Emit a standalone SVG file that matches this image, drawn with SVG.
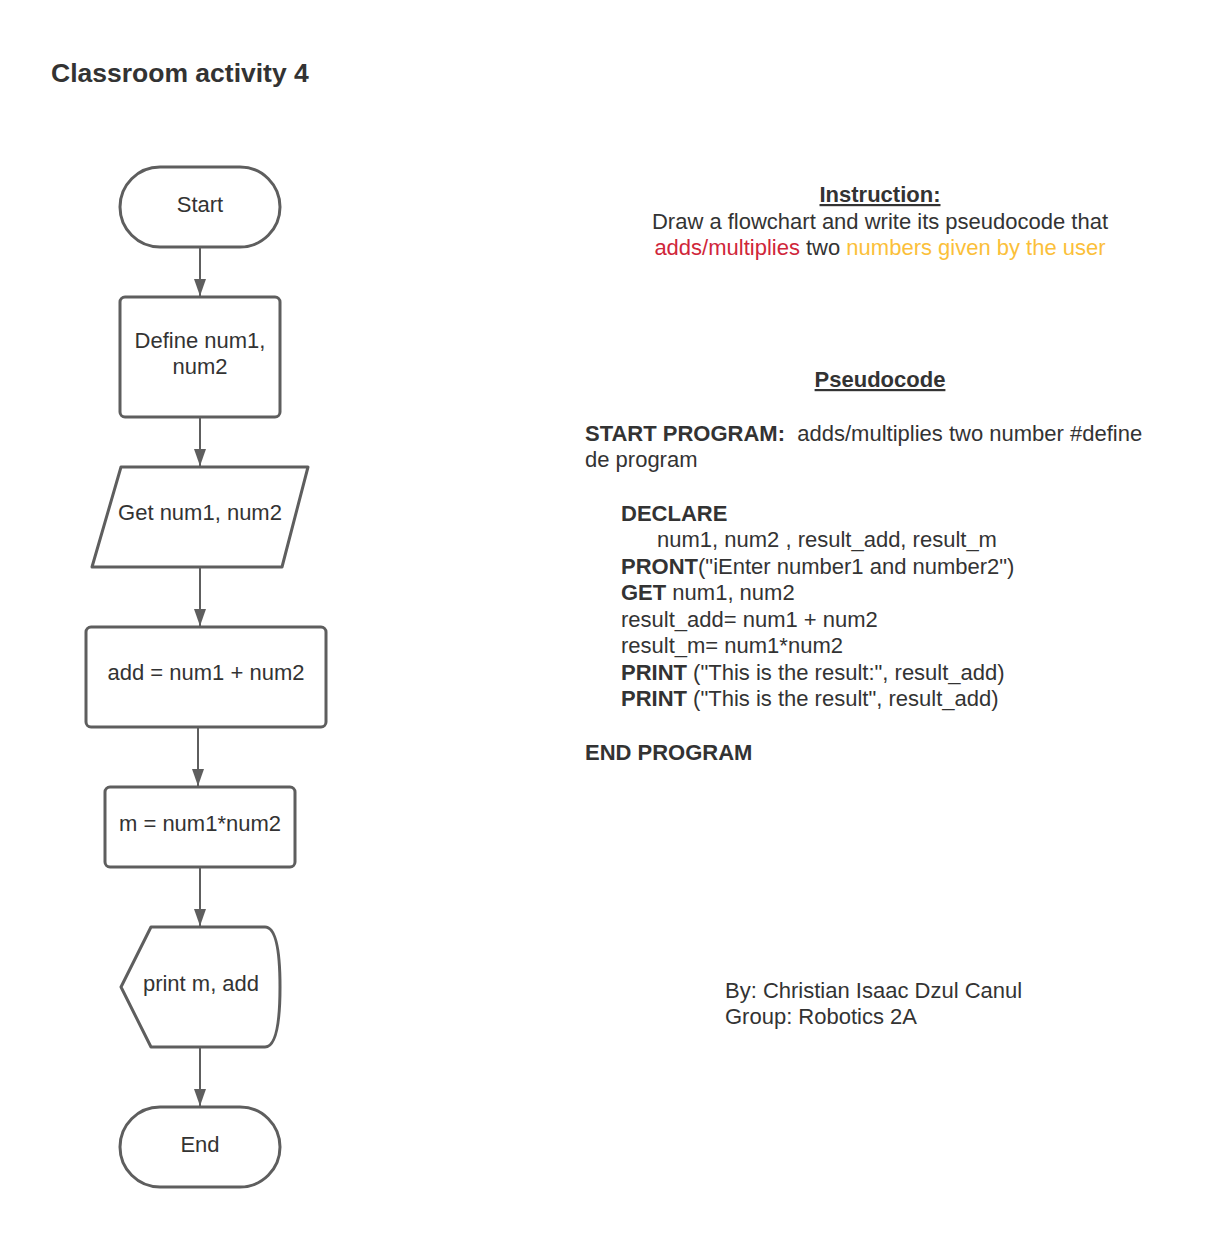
<svg xmlns="http://www.w3.org/2000/svg" width="1220" height="1242" viewBox="0 0 1220 1242">
<defs>
<marker id="ah" markerUnits="userSpaceOnUse" markerWidth="18" markerHeight="14" refX="17" refY="7" orient="auto" viewBox="0 0 18 14">
<path d="M0,1 L17,7 L0,13 Z" fill="#5e5e5e"/>
</marker>
</defs>
<style>
.shape{fill:#ffffff;stroke:#5e5e5e;stroke-width:3;stroke-linejoin:round}
.conn{stroke:#5e5e5e;stroke-width:2;fill:none;marker-end:url(#ah)}
text{font-family:"Liberation Sans",Arial,sans-serif;fill:#333333}
.lbl{font-size:22px;text-anchor:middle}
.t{font-size:22px}
.b{font-weight:bold}
</style>
<rect width="1220" height="1242" fill="#ffffff"/>
<text x="51" y="82" style="font-size:26.5px;font-weight:bold">Classroom activity 4</text>

<g id="connectors">
<line class="conn" x1="200" y1="248" x2="200" y2="296"/>
<line class="conn" x1="200" y1="418" x2="200" y2="466"/>
<line class="conn" x1="200" y1="568" x2="200" y2="626"/>
<line class="conn" x1="198" y1="728" x2="198" y2="786"/>
<line class="conn" x1="200" y1="868" x2="200" y2="926"/>
<line class="conn" x1="200" y1="1048" x2="200" y2="1106"/>
</g>

<g id="start">
<rect class="shape" x="120" y="167" width="160" height="80" rx="40" ry="40"/>
<text class="lbl" x="200" y="212">Start</text>
</g>
<g id="define">
<rect class="shape" x="120" y="297" width="160" height="120" rx="5" ry="5"/>
<text class="lbl" x="200" y="348">Define num1,</text>
<text class="lbl" x="200" y="374">num2</text>
</g>
<g id="get">
<path class="shape" d="M121,467 L308,467 L282,567 L92,567 Z"/>
<text class="lbl" x="200" y="520">Get num1, num2</text>
</g>
<g id="add">
<rect class="shape" x="86" y="627" width="240" height="100" rx="5" ry="5"/>
<text class="lbl" x="206" y="680">add = num1 + num2</text>
</g>
<g id="mult">
<rect class="shape" x="105" y="787" width="190" height="80" rx="5" ry="5"/>
<text class="lbl" x="200" y="831">m = num1*num2</text>
</g>
<g id="print">
<path class="shape" d="M151,927 L265,927 Q280,927 280,987 Q280,1047 265,1047 L151,1047 L121,987 Z"/>
<text class="lbl" x="201" y="991">print m, add</text>
</g>
<g id="end">
<rect class="shape" x="120" y="1107" width="160" height="80" rx="40" ry="40"/>
<text class="lbl" x="200" y="1152">End</text>
</g>

<g id="instruction">
<text class="t b" x="880" y="202" text-anchor="middle" text-decoration="underline">Instruction:</text>
<text class="t" x="880" y="229" text-anchor="middle">Draw a flowchart and write its pseudocode that</text>
<text class="t" x="880" y="255" text-anchor="middle"><tspan style="fill:#d0263a">adds/multiplies</tspan> two <tspan style="fill:#fbbf3a">numbers given by the user</tspan></text>
</g>

<g id="pseudocode">
<text class="t b" x="880" y="387" text-anchor="middle" text-decoration="underline">Pseudocode</text>
<text class="t" x="585" y="441"><tspan class="b">START PROGRAM:</tspan>&#160; adds/multiplies two number #define</text>
<text class="t" x="585" y="467">de program</text>
<text class="t b" x="621" y="521">DECLARE</text>
<text class="t" x="657" y="547">num1, num2 , result_add, result_m</text>
<text class="t" x="621" y="574"><tspan class="b">PRONT</tspan>("iEnter number1 and number2")</text>
<text class="t" x="621" y="600"><tspan class="b">GET</tspan> num1, num2</text>
<text class="t" x="621" y="627">result_add= num1 + num2</text>
<text class="t" x="621" y="653">result_m= num1*num2</text>
<text class="t" x="621" y="680"><tspan class="b">PRINT</tspan> ("This is the result:", result_add)</text>
<text class="t" x="621" y="706"><tspan class="b">PRINT</tspan> ("This is the result", result_add)</text>
<text class="t b" x="585" y="760">END PROGRAM</text>
</g>

<g id="author">
<text class="t" x="725" y="998">By: Christian Isaac Dzul Canul</text>
<text class="t" x="725" y="1024">Group: Robotics 2A</text>
</g>
</svg>
